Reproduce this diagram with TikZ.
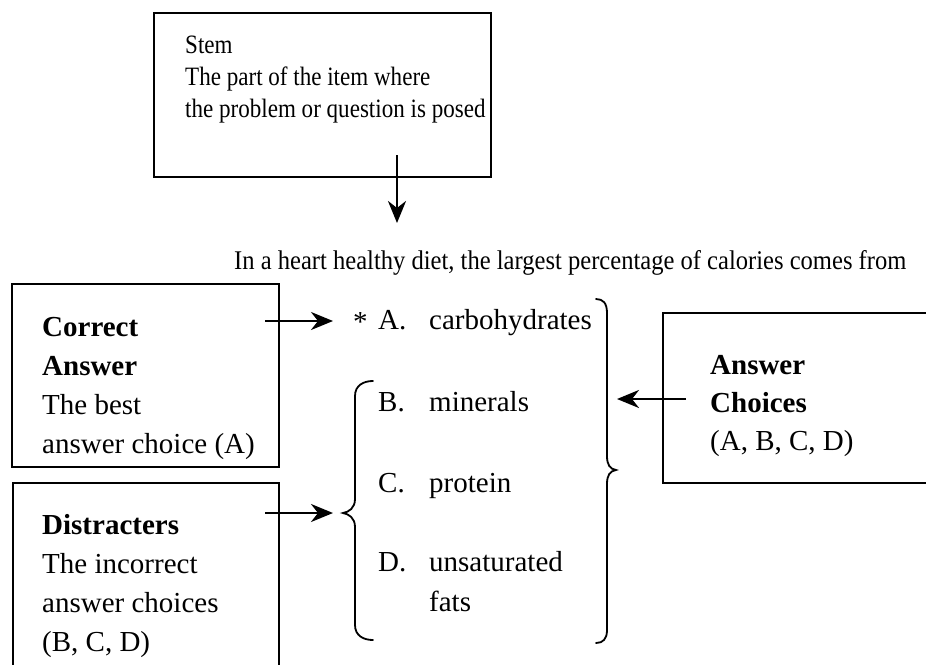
\documentclass[tikz,border=0pt]{standalone}
\usepackage{fontspec}
\setmainfont{Liberation Serif}
\newfontfamily\stemfont[FakeStretch=0.87]{Liberation Serif}
\newfontfamily\qfont[FakeStretch=0.91]{Liberation Serif}
\usetikzlibrary{arrows.meta}
\begin{document}
\begin{tikzpicture}[x=1pt,y=-1pt,
  box/.style={draw, line width=1.7pt, inner sep=0pt, anchor=north west},
  stemtxt/.style={anchor=base west, inner sep=0pt, font=\stemfont\fontsize{26.5}{30}\selectfont},
  qtxt/.style={anchor=base west, inner sep=0pt, font=\qfont\fontsize{27}{30}\selectfont},
  big/.style={anchor=base west, inner sep=0pt, font=\fontsize{29}{34}\selectfont},
  hd/.style={anchor=base west, inner sep=0pt, font=\fontsize{29}{34}\selectfont\bfseries},
  arr/.style={line width=2.6pt, -{Stealth[length=22pt,width=18pt,inset=7pt]}},
  brc/.style={line width=1.8pt, line cap=round}
]
\clip (0,0) rectangle (926,664);
\fill[white] (0,0) rectangle (926,664);

% boxes
\node[box, minimum width=337pt, minimum height=164pt] (stem) at (153,12) {};
\node[box, minimum width=267pt, minimum height=183pt] (ca) at (11,283) {};
\node[box, minimum width=266pt, minimum height=250pt] (dis) at (12,482) {};
\node[box, minimum width=300pt, minimum height=170pt] (ac) at (662,312) {};

% stem text
\node[stemtxt] (stemT) at (185,53) {Stem};
\node[stemtxt] (stemA) at (185,85) {The part of the item where};
\node[stemtxt] (stemB) at (185,117) {the problem or question is posed};

% question
\node[qtxt] (q) at (234,269) {In a heart healthy diet, the largest percentage of calories comes from};

% correct answer
\node[hd] (ca1) at (42,336) {Correct};
\node[hd] (ca2) at (42,375) {Answer};
\node[big] (ca3) at (42,414) {The best};
\node[big] (ca4) at (42,453) {answer choice (A)};

% distracters
\node[hd] (dis1) at (42,534) {Distracters};
\node[big] (dis2) at (42,573) {The incorrect};
\node[big] (dis3) at (42,612) {answer choices};
\node[big] (dis4) at (42,651) {(B, C, D)};

% answer choices
\node[hd] (ac1) at (710,374) {Answer};
\node[hd] (ac2) at (710,412) {Choices};
\node[big] (ac3) at (710,450) {(A, B, C, D)};

% list
\node[big] (star) at (353,331) {*};
\node[big] (la) at (378,329) {A.};
\node[big] (lat) at (429,329) {carbohydrates};
\node[big] (lb) at (378,411) {B.};
\node[big] (lbt) at (429,411) {minerals};
\node[big] (lc) at (378,492) {C.};
\node[big] (lct) at (429,492) {protein};
\node[big] (ld) at (378,571) {D.};
\node[big] (ldt) at (429,571) {unsaturated};
\node[big] (ldt2) at (429,611) {fats};

% braces
\draw[brc] (596,299) .. controls (603,299) and (607,303) .. (607,313)
  -- (607,456) .. controls (607,465) and (610,469) .. (616,470)
  .. controls (610,471) and (607,475) .. (607,484)
  -- (607,630) .. controls (607,639) and (603,643) .. (596,643);
\draw[brc] (373,381) .. controls (364,381) and (355,385) .. (355,396)
  -- (355,499) .. controls (355,508) and (349,512) .. (343,513)
  .. controls (349,514) and (355,518) .. (355,527)
  -- (355,625) .. controls (355,636) and (364,640) .. (373,640);

% arrows
\coordinate (stemTail) at (397,155);
\coordinate (stemHead) at (397,223);
\coordinate (caTail) at (265,321);
\coordinate (caHead) at (333,321);
\coordinate (disTail) at (265,513);
\coordinate (disHead) at (333,513);
\coordinate (acTail) at (686,399);
\coordinate (acHead) at (617,399);
\draw[arr] (stemTail) -- (stemHead);
\draw[arr] (caTail) -- (caHead);
\draw[arr] (disTail) -- (disHead);
\draw[arr] (acTail) -- (acHead);
\end{tikzpicture}
\end{document}
